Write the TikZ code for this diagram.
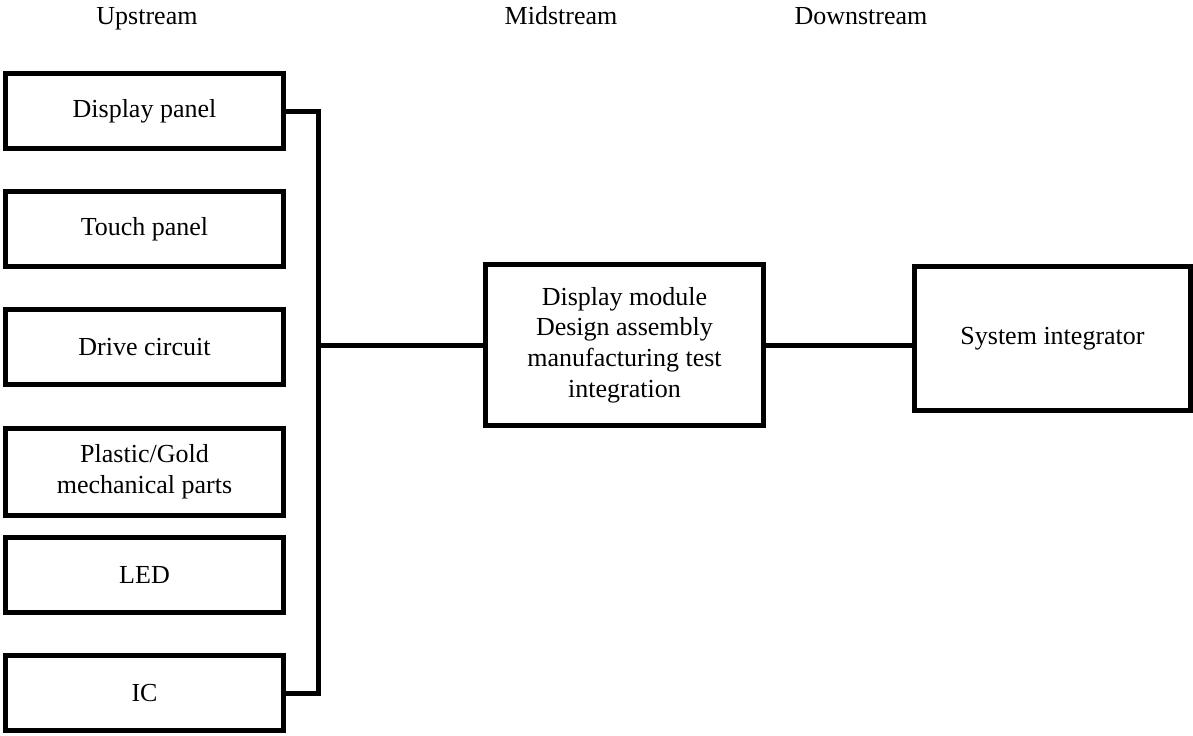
\documentclass[tikz,border=0pt]{standalone}
\usepackage{fontspec}
\setmainfont{Liberation Serif}
\usetikzlibrary{positioning,calc}

\begin{document}
\begin{tikzpicture}
    [x=0.5pt,y=-0.5pt,
    block/.style={
      rectangle,
      draw=black,
      line width=2.5pt,
      align=center,
      minimum width=139pt,
      minimum height=37.5pt,
      inner sep=2pt,
      font=\fontsize{13}{15.3}\selectfont
    },
    block1/.style={
      block,
      minimum height=43.5pt
    },
    block2/.style={
      block,
      minimum height=80.5pt
    },
    block3/.style={
      block,
      minimum width=138pt,
      minimum height=72pt
    },
    line/.style={
      draw,
      line width=2.5pt
    },
    head/.style={
      anchor=base,
      font=\fontsize{13}{15.3}\selectfont
    }
  ]
    \useasboundingbox (0,0) rectangle (1193,735);
    \draw (147,24) node[head] (UP) {Upstream};
    \draw (561,24) node[head] (MID) {Midstream};
    \draw (861,24) node[head] (DOWN) {Downstream};
    \path (144.5,111) node[block] (A) {Display panel}
          (144.5,229) node[block] (B) {Touch panel}
          (144.5,347) node[block] (C) {Drive circuit}
          (144.5,472) node[block1] (D) {Plastic/Gold\\mechanical parts}
          (144.5,575) node[block] (E) {LED}
          (144.5,693) node[block] (F) {IC};
    \draw (624.5,345) node[block2] (M) {Display module\\Design assembly\\manufacturing test\\integration};
    \draw (1052.5,338.5) node[block3] (S) {System integrator};
    \coordinate (BUS) at (318,345);
    \draw[line] (A.east) -| (BUS) |- (F.east);
    \draw[line] (BUS) -- (M.west);
    \draw[line] (M.east) -- (M.east -| S.west);
\end{tikzpicture}
\end{document}
